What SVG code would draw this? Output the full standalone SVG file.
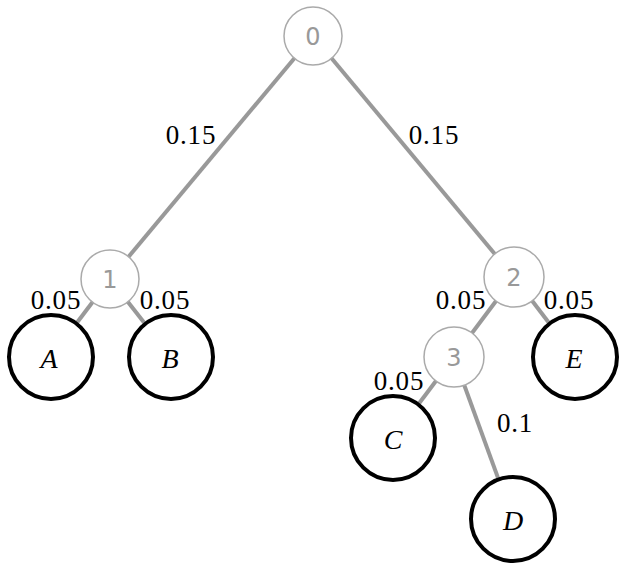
<svg xmlns="http://www.w3.org/2000/svg" width="625" height="569" viewBox="0 0 625 569">
<style>
.edge{stroke:#999;stroke-width:4;fill:none}
.inner circle{fill:#fff;stroke:#aaa;stroke-width:1.5}
.inner text{font-family:"DejaVu Sans","Liberation Sans",sans-serif;font-size:24px;fill:#999;text-anchor:middle;dominant-baseline:central}
.leaf circle{fill:#fff;stroke:#000;stroke-width:4}
.leaf text{font-family:"Liberation Serif",serif;font-style:italic;font-size:28px;fill:#000;text-anchor:middle;dominant-baseline:central}
.lbl{font-family:"Liberation Serif",serif;font-size:27px;letter-spacing:0.8px;fill:#000;text-anchor:middle}
</style>
<rect width="625" height="569" fill="#fff"/>
<g id="connectors">
<line class="edge" x1="313" y1="36" x2="110" y2="279"/>
<line class="edge" x1="313" y1="36" x2="514" y2="277"/>
<line class="edge" x1="110" y1="279" x2="51" y2="357"/>
<line class="edge" x1="110" y1="279" x2="171" y2="357"/>
<line class="edge" x1="514" y1="277" x2="454" y2="357"/>
<line class="edge" x1="514" y1="277" x2="575" y2="357"/>
<line class="edge" x1="454" y1="357" x2="393" y2="438"/>
<line class="edge" x1="454" y1="357" x2="513" y2="519"/>
</g>
<g id="edge-labels">
<text class="lbl" x="191" y="144">0.15</text>
<text class="lbl" x="434" y="144">0.15</text>
<text class="lbl" x="56" y="309">0.05</text>
<text class="lbl" x="165" y="309">0.05</text>
<text class="lbl" x="461" y="309">0.05</text>
<text class="lbl" x="569" y="309">0.05</text>
<text class="lbl" x="399" y="390">0.05</text>
<text class="lbl" x="515" y="432">0.1</text>
</g>
<g id="n0" class="inner"><circle cx="313" cy="36" r="29"/><text x="313" y="37">0</text></g>
<g id="n1" class="inner"><circle cx="110" cy="279" r="29"/><text x="110" y="280">1</text></g>
<g id="n2" class="inner"><circle cx="514" cy="277" r="30"/><text x="514" y="278">2</text></g>
<g id="n3" class="inner"><circle cx="454" cy="357" r="30"/><text x="454" y="358">3</text></g>
<g id="A" class="leaf"><circle cx="51" cy="357" r="42"/><text x="49" y="358">A</text></g>
<g id="B" class="leaf"><circle cx="171" cy="357" r="42"/><text x="170" y="358">B</text></g>
<g id="E" class="leaf"><circle cx="575" cy="357" r="42"/><text x="574" y="358">E</text></g>
<g id="C" class="leaf"><circle cx="393" cy="438" r="42"/><text x="393" y="439">C</text></g>
<g id="D" class="leaf"><circle cx="513" cy="519" r="42"/><text x="513" y="520">D</text></g>
</svg>
